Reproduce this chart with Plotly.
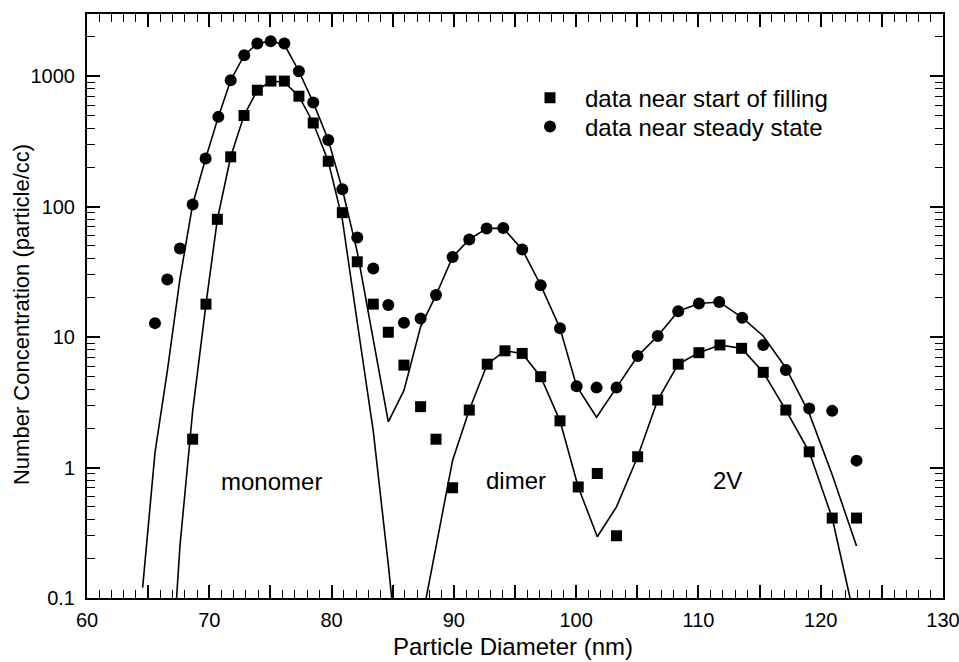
import math
import plotly.graph_objects as go

# ---- data ----
steady_d = [65.56, 66.57, 67.6, 68.64, 69.7, 70.74, 71.75, 72.86, 73.93, 75.02, 76.14,
            77.33, 78.5, 79.73, 80.88, 82.1, 83.41, 84.64, 85.92, 87.28, 88.54, 89.9,
            91.26, 92.68, 94.04, 95.59, 97.1, 98.68, 100.04, 101.67, 103.3, 105.03,
            106.67, 108.35, 110.04, 111.7, 113.58, 115.3, 117.15, 119.06, 120.94, 122.93]
steady_n = [12.8, 27.7, 47.8, 104, 234, 488, 932, 1449, 1780, 1854, 1780,
            1092, 630, 325, 136, 58, 33.6, 17.6, 12.9, 13.9, 21, 41.2,
            56.1, 68, 68.5, 47, 25, 11.7, 4.2, 4.1, 4.1, 7.15,
            10.2, 15.8, 18.1, 18.6, 14.1, 8.7, 5.6, 2.84, 2.72, 1.13]

start_d = [68.64, 69.73, 70.66, 71.75, 72.84, 73.93, 75.04, 76.14, 77.33, 78.5, 79.73,
           80.88, 82.1, 83.41, 84.64, 85.92, 87.28, 88.54, 89.9, 91.26, 92.73, 94.18,
           95.59, 97.1, 98.68, 100.17, 101.73, 103.3, 105.03, 106.67, 108.35, 110.04,
           111.76, 113.53, 115.3, 117.15, 119.06, 120.94, 122.93]
start_n = [1.65, 17.9, 80, 241, 500, 781, 918, 918, 703, 438, 223,
           90, 37.8, 17.9, 10.9, 6.1, 2.93, 1.65, 0.70, 2.76, 6.2, 7.85,
           7.5, 4.97, 2.28, 0.71, 0.90, 0.30, 1.21, 3.29, 6.2, 7.6,
           8.7, 8.2, 5.37, 2.76, 1.32, 0.41, 0.41]

steady_fit_d = [64.55, 65.56, 66.57, 67.6, 68.64, 69.7, 70.74, 71.75, 72.86, 73.93, 75.02,
                76.14, 77.33, 78.5, 79.73, 80.88, 82.1, 83.41, 84.64, 85.92, 87.28, 88.54,
                89.9, 91.26, 92.68, 94.04, 95.59, 97.1, 98.68, 100.04, 101.67, 103.3,
                105.03, 106.67, 108.35, 110.04, 111.7, 113.58, 115.3, 117.15, 119.06,
                120.94, 122.93]
steady_fit_n = [0.12, 1.3, 5.5, 28, 104, 234, 488, 932, 1449, 1780, 1854,
                1750, 1092, 630, 325, 136, 45, 9.5, 2.24, 3.9, 12, 21,
                41.2, 56.1, 68, 68.5, 47, 25, 11.7, 4.2, 2.43, 4.1,
                7.15, 10.2, 15.8, 18.1, 18.6, 14.1, 10.2, 5.8, 2.6,
                0.88, 0.25]

start_fit_d = [66.57, 67.6, 68.64, 69.73, 70.66, 71.75, 72.84, 73.93, 75.04, 76.14, 77.33,
               78.5, 79.73, 80.88, 82.1, 83.41, 84.64, 85.92, 87.28, 88.54, 89.9, 91.26,
               92.73, 94.18, 95.59, 97.1, 98.68, 100.17, 101.73, 103.3, 105.03, 106.67,
               108.35, 110.04, 111.76, 113.53, 115.3, 117.15, 119.06, 120.94, 122.93]
start_fit_n = [0.008, 0.25, 2.7, 17.9, 80, 241, 500, 781, 918, 900, 703,
               438, 223, 80, 13, 1.9, 0.18, 0.012, 0.06, 0.24, 1.14, 2.76,
               6.2, 7.85, 7.5, 4.97, 2.28, 0.71, 0.295, 0.5, 1.21, 3.29,
               6.2, 7.6, 8.7, 8.2, 5.37, 2.76, 1.32, 0.41, 0.06]

x_tickvals = [60, 65, 70, 75, 80, 85, 90, 95, 100, 105, 110, 115, 120, 125, 130]
x_ticktext = ["60", "", "70", "", "80", "", "90", "", "100", "", "110", "", "120", "", "130"]
y_tickvals = [0.1, 1, 10, 100, 1000]
y_ticktext = ["0.1", "1", "10", "100", "1000"]
y_minor = [m * 10.0 ** e for e in range(-1, 4) for m in range(2, 10) if m * 10.0 ** e < 3000]

peak_labels = ["monomer", "dimer", "2V"]
peak_label_x = [75.1, 95.1, 112.4]
peak_label_y = [0.78, 0.8, 0.8]

x_title = "Particle Diameter (nm)"
y_title = "Number Concentration (particle/cc)"

FONT = "Liberation Sans, Arial, sans-serif"

fig = go.Figure()
fig.add_trace(go.Scatter(x=steady_fit_d, y=steady_fit_n, mode="lines",
                         line=dict(color="black", width=1.6), showlegend=False,
                         hoverinfo="skip"))
fig.add_trace(go.Scatter(x=start_fit_d, y=start_fit_n, mode="lines",
                         line=dict(color="black", width=1.6), showlegend=False,
                         hoverinfo="skip"))
fig.add_trace(go.Scatter(x=start_d, y=start_n, mode="markers", name="data near start of filling",
                         marker=dict(symbol="square", size=11, color="black"),
                         legend="legend"))
fig.add_trace(go.Scatter(x=steady_d, y=steady_n, mode="markers", name="data near steady state",
                         marker=dict(symbol="circle", size=12, color="black"),
                         legend="legend2"))

for t, x, y in zip(peak_labels, peak_label_x, peak_label_y):
    fig.add_annotation(x=x, y=math.log10(y), yref="y", xref="x", text=t, showarrow=False,
                       font=dict(family=FONT, size=24, color="black"))

# axis titles as paper-anchored text
fig.add_annotation(x=0.4977, y=-0.0839, xref="paper", yref="paper", text=x_title,
                   showarrow=False, xanchor="center", yanchor="middle",
                   font=dict(family=FONT, size=24, color="black"))
fig.add_annotation(x=-0.0759, y=0.4846, xref="paper", yref="paper", text=y_title,
                   showarrow=False, xanchor="center", yanchor="middle", textangle=-90,
                   font=dict(family=FONT, size=22, color="black"))

leg_common = dict(xanchor="left", yanchor="middle", bgcolor="rgba(0,0,0,0)",
                  font=dict(family=FONT, size=24), itemwidth=60)
fig.update_layout(
    width=959, height=662,
    margin=dict(l=87, r=16, t=14, b=64),
    paper_bgcolor="white", plot_bgcolor="white",
    font=dict(family=FONT, size=19, color="black"),
    legend=dict(x=0.5, y=0.856, **leg_common),
    legend2=dict(x=0.5, y=0.8065, **leg_common),
)
fig.update_xaxes(
    range=[60, 130], tickvals=x_tickvals, ticktext=x_ticktext, automargin=False,
    ticks="inside", ticklen=13, tickwidth=1.5, tickcolor="black",
    showline=True, linecolor="black", linewidth=2, mirror="ticks",
    showgrid=False, zeroline=False, ticklabelstandoff=3, ticklabeloverflow="allow",
    tickfont=dict(family=FONT, size=20),
    minor=dict(dtick=1, ticks="inside", ticklen=8, tickwidth=1.2, tickcolor="black", showgrid=False),
)
fig.update_yaxes(
    type="log", range=[-1, 3.477], tickvals=y_tickvals, ticktext=y_ticktext, automargin=False,
    ticks="inside", ticklen=13, tickwidth=1.5, tickcolor="black",
    showline=True, linecolor="black", linewidth=2, mirror="ticks",
    showgrid=False, zeroline=False, ticklabelstandoff=6, ticklabeloverflow="allow",
    tickfont=dict(family=FONT, size=20),
    minor=dict(tickvals=y_minor, ticks="inside", ticklen=8, tickwidth=1.2, tickcolor="black", showgrid=False),
)

fig.write_html("out.html")
